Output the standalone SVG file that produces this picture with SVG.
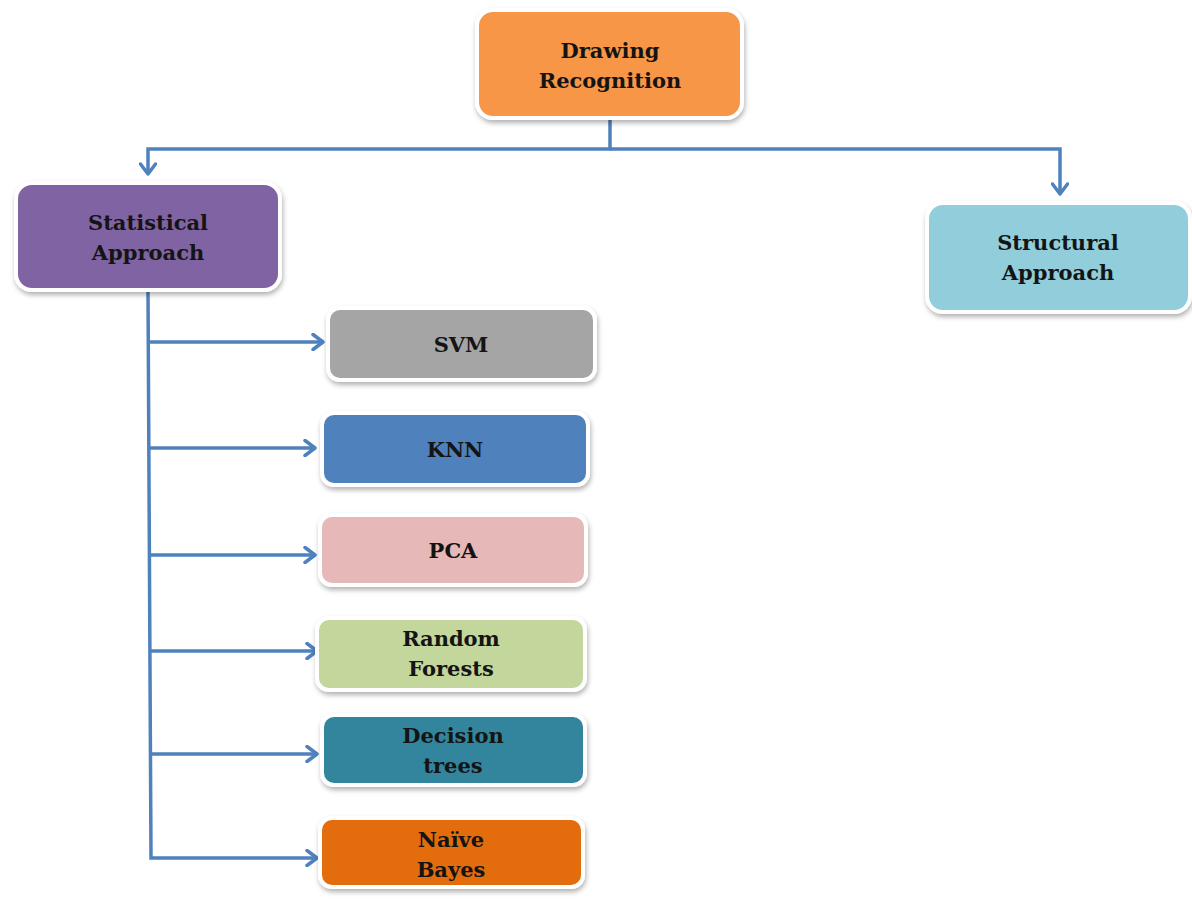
<svg xmlns="http://www.w3.org/2000/svg" width="1192" height="899" viewBox="0 0 1192 899">
<defs>
<filter id="sh" x="-10%" y="-10%" width="120%" height="130%">
<feDropShadow dx="1" dy="3" stdDeviation="2.5" flood-color="#000" flood-opacity="0.3"/>
</filter>
<marker id="ah" markerWidth="14" markerHeight="18" refX="12" refY="9" orient="auto" markerUnits="userSpaceOnUse">
<path d="M2,1.5 L12,9 L2,16.5" fill="none" stroke="#4F81BD" stroke-width="3.5" stroke-linecap="round" stroke-linejoin="round"/>
</marker>
</defs>
<style>
.box{stroke:#fff;stroke-width:4;filter:url(#sh)}
.t{font-family:"DejaVu Serif","Liberation Serif",serif;font-weight:bold;font-size:21px;fill:#141414;text-anchor:middle}
.c{fill:none;stroke:#4F81BD;stroke-width:3.5}
</style>
<rect width="1192" height="899" fill="#fff"/>
<g id="connectors">
<polyline class="c" points="610,118 610,149 148,149 148,174" marker-end="url(#ah)"/>
<polyline class="c" points="610,149 1060,149 1060,194" marker-end="url(#ah)"/>
<polyline class="c" points="148,290 151,858 317,858" marker-end="url(#ah)"/>
<line class="c" x1="148" y1="342" x2="323" y2="342" marker-end="url(#ah)"/>
<line class="c" x1="149" y1="448" x2="315" y2="448" marker-end="url(#ah)"/>
<line class="c" x1="150" y1="555" x2="315" y2="555" marker-end="url(#ah)"/>
<line class="c" x1="150" y1="651" x2="317" y2="651" marker-end="url(#ah)"/>
<line class="c" x1="151" y1="754" x2="317" y2="754" marker-end="url(#ah)"/>
</g>
<g id="drawing-recognition">
<rect class="box" x="477" y="10" width="265" height="108" rx="16" fill="#F79646"/>
<text class="t" x="610" y="58">Drawing</text>
<text class="t" x="610" y="88">Recognition</text>
</g>
<g id="statistical-approach">
<rect class="box" x="16" y="183" width="264" height="107" rx="16" fill="#8064A2"/>
<text class="t" x="148" y="230">Statistical</text>
<text class="t" x="148" y="260">Approach</text>
</g>
<g id="structural-approach">
<rect class="box" x="927" y="203" width="263" height="109" rx="16" fill="#92CDDC"/>
<text class="t" x="1058" y="250">Structural</text>
<text class="t" x="1058" y="280">Approach</text>
</g>
<g id="svm">
<rect class="box" x="328" y="308" width="267" height="72" rx="12" fill="#A5A5A5"/>
<text class="t" x="461" y="352">SVM</text>
</g>
<g id="knn">
<rect class="box" x="322" y="413" width="266" height="72" rx="12" fill="#4F81BD"/>
<text class="t" x="455" y="457">KNN</text>
</g>
<g id="pca">
<rect class="box" x="320" y="515" width="266" height="70" rx="12" fill="#E6B9B8"/>
<text class="t" x="453" y="558">PCA</text>
</g>
<g id="random-forests">
<rect class="box" x="317" y="618" width="268" height="72" rx="12" fill="#C3D69B"/>
<text class="t" x="451" y="646">Random</text>
<text class="t" x="451" y="676">Forests</text>
</g>
<g id="decision-trees">
<rect class="box" x="322" y="715" width="263" height="70" rx="12" fill="#31859C"/>
<text class="t" x="453" y="743">Decision</text>
<text class="t" x="453" y="773">trees</text>
</g>
<g id="naive-bayes">
<rect class="box" x="320" y="818" width="263" height="69" rx="12" fill="#E36C09"/>
<text class="t" x="451" y="847">Naïve</text>
<text class="t" x="451" y="877">Bayes</text>
</g>
</svg>
